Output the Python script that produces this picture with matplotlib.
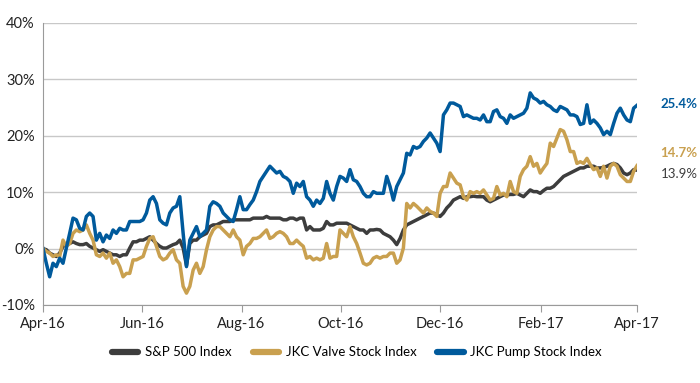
import pandas as pd
import matplotlib.pyplot as plt
from matplotlib.ticker import FuncFormatter

# cumulative return (%), evenly spaced Apr-2016 .. Apr-2017
sp500 = [0.0, -0.2, -0.8, -1.1, -1.4, -0.8, 0.4, 0.7, 0.9, 1.2, 0.9, 0.7, 0.7, 0.9, 0.4, 0.1,
         -0.2, -0.5, -0.2, -0.5, -0.8, -1.1, -1.1, -1.4, -1.1, -1.1, 0.1, 1.2, 1.2, 1.5, 1.5, 1.8,
         2.1, 1.5, 0.9, 0.4, 0.1, 0.1, 0.4, 0.7, 0.9, 1.5, 0.1, -3.0, 0.9, 1.5, 1.5, 2.1,
         2.4, 2.7, 3.9, 4.2, 4.2, 4.5, 4.8, 4.8, 4.8, 5.1, 5.1, 5.1, 5.1, 5.1, 5.1, 5.4,
         5.4, 5.4, 5.4, 5.7, 5.4, 5.4, 5.4, 5.4, 5.1, 5.1, 5.4, 5.4, 5.1, 5.4, 5.4, 3.3,
         3.9, 3.3, 3.3, 3.3, 3.6, 4.8, 4.2, 4.2, 4.5, 4.5, 4.5, 4.5, 4.2,
         3.9, 3.6, 3.3, 3.3, 2.7, 3.3, 3.3, 3.4, 3.3, 2.7, 2.4, 2.1, 1.5, 0.7, 1.8, 3.3,
         4.2, 4.5, 4.8, 5.1, 5.4, 5.7, 6.0, 6.3, 6.3, 6.0, 5.7, 6.3, 7.2, 7.8, 8.6, 8.9,
         9.2, 8.9, 9.2, 9.2, 9.3, 9.2, 9.2, 9.2, 8.6, 8.3, 8.6, 8.9, 9.2, 9.5, 9.5, 9.6,
         9.6, 9.8, 9.5, 9.2, 9.8, 10.4, 10.1, 10.1, 9.8, 10.3, 10.7, 10.7, 11.0, 11.6, 12.2, 12.8,
         13.1, 13.4, 13.7, 14.0, 14.3, 14.3, 14.6, 14.6, 14.6, 14.3, 14.3, 14.4, 14.6, 14.9, 15.1, 14.9,
         14.3, 13.4, 13.1, 13.4, 14.0, 13.9]

valve = [0.0, -0.5, -0.8, -1.4, -1.1, -1.4, 1.5, 0.4, 0.9, 2.7, 3.3, 3.0, 3.3, 4.2, 2.7, 1.5,
         -1.1, -1.4, -0.8, -1.7, -0.8, -2.6, -2.0, -3.2, -5.0, -4.4, -4.4, -2.0, -2.0, -1.7, -1.4, 0.4,
         1.8, 2.1, 0.4, -1.4, -2.0, -1.7, -0.8, -0.2, -2.0, -2.6, -6.7, -7.9, -6.7, -3.8, -2.6, -4.4,
         -3.2, -0.2, 2.1, 3.3, 3.9, 3.9, 3.3, 2.7, 2.1, 3.3, 2.1, 1.5, -1.1, 0.4, 0.9, 1.8,
         1.8, 2.1, 2.7, 3.3, 1.8, 2.1, 2.7, 3.0, 2.7, 2.1, 0.9, 0.9, 1.5, 0.9, 0.4, -1.7,
         -1.4, -2.0, -1.7, -2.0, -1.7, 0.9, -1.7, -1.4, -1.4, 3.3, 2.7, 2.1, 3.9,
         2.1, 0.9, -0.8, -2.6, -2.9, -2.6, -1.7, -1.4, -1.7, -1.4, -1.4, -0.8, -0.8, -2.6, -2.0, 0.1,
         8.0, 7.2, 8.0, 7.5, 6.9, 6.3, 7.2, 6.6, 6.3, 5.7, 9.8, 11.0, 11.0, 13.4, 12.5, 11.6,
         11.3, 9.2, 8.6, 10.1, 9.8, 10.1, 9.8, 10.4, 9.5, 8.6, 8.9, 11.0, 9.5, 9.8, 9.2, 11.9,
         10.1, 9.8, 12.8, 14.0, 14.6, 16.3, 14.6, 15.1, 13.4, 14.3, 15.1, 18.7, 18.1, 19.6, 21.1, 20.8,
         19.3, 17.2, 17.2, 15.1, 15.4, 15.1, 16.0, 14.9, 14.0, 14.3, 12.8, 14.6, 12.5, 14.6, 15.1, 14.6,
         13.1, 12.5, 11.9, 11.9, 13.7, 14.7]

pump = [0.0, -2.6, -5.0, -2.6, -3.2, -1.7, -2.6, 0.1, 2.7, 5.4, 5.1, 3.6, 3.3, 5.7, 6.3, 5.7,
        1.5, 2.7, 1.2, 2.4, 1.8, 3.3, 2.7, 3.6, 3.3, 3.3, 4.8, 4.8, 4.8, 4.8, 5.1, 6.3,
        8.6, 9.2, 8.0, 5.1, 4.5, 4.2, 6.3, 7.2, 7.5, 9.2, 2.7, -3.2, 1.5, 2.7, 3.9, 2.1,
        2.7, 3.3, 7.5, 8.3, 8.0, 7.5, 6.3, 5.7, 5.1, 4.8, 6.9, 9.2, 6.9, 6.9, 7.8, 8.6,
        10.1, 11.9, 12.8, 13.7, 14.6, 14.0, 13.4, 13.7, 12.8, 12.5, 11.9, 9.8, 11.6, 11.0, 11.9, 9.2,
        8.6, 7.5, 8.6, 8.0, 8.9, 11.9, 9.8, 8.6, 11.0, 12.8, 12.5, 11.9, 14.0,
        12.2, 11.9, 11.0, 9.8, 9.2, 9.2, 10.1, 9.8, 9.8, 9.8, 12.8, 11.0, 8.6, 11.0, 12.2, 13.4,
        16.9, 16.6, 18.1, 17.8, 18.1, 19.0, 19.6, 20.5, 19.6, 18.7, 17.2, 23.7, 24.6, 25.8, 25.8, 25.5,
        25.2, 23.4, 23.7, 23.4, 23.1, 23.1, 22.8, 23.7, 22.5, 22.5, 24.3, 24.6, 23.4, 23.1, 22.2, 23.7,
        23.1, 23.4, 23.7, 24.0, 24.9, 27.6, 26.7, 26.4, 25.8, 26.1, 25.5, 25.2, 24.6, 24.3, 25.2, 24.9,
        24.6, 23.7, 23.7, 23.4, 22.0, 22.2, 25.5, 22.2, 22.8, 22.2, 21.4, 20.2, 20.8, 20.2, 22.2, 24.0,
        24.9, 23.7, 22.8, 22.5, 24.9, 25.4]

series_names = ['S&P 500 Index', 'JKC Valve Stock Index', 'JKC Pump Stock Index']
series_colors = ['#3d3d3d', '#c9a04f', '#005a9c']
tick_dates = ['2016-04-01', '2016-06-01', '2016-08-01', '2016-10-01',
              '2016-12-01', '2017-02-01', '2017-04-01']
tick_labels = ['Apr-16', 'Jun-16', 'Aug-16', 'Oct-16', 'Dec-16', 'Feb-17', 'Apr-17']

dates = pd.date_range('2016-04-01', '2017-04-01', periods=len(sp500))

plt.rcParams['font.family'] = ['Lato', 'DejaVu Sans']
fig = plt.figure(figsize=(7, 3.83), dpi=100)
ax = fig.add_axes([0.0614, 0.2037, 0.8486, 0.7363])

for vals, name, col in zip([sp500, valve, pump], series_names, series_colors):
    ax.plot(dates, vals, color=col, linewidth=2.5, label=name, solid_joinstyle='round')

ax.set_ylim(-10, 40)
ax.set_yticks([-10, 0, 10, 20, 30, 40])
ax.yaxis.set_major_formatter(FuncFormatter(lambda v, p: f'{v:.0f}%'))
ax.set_xlim(pd.Timestamp(tick_dates[0]), pd.Timestamp(tick_dates[-1]))
ax.set_xticks(pd.to_datetime(tick_dates))
ax.set_xticklabels(tick_labels)

ax.grid(axis='y', color='#c8c8c8', linewidth=1)
ax.set_axisbelow(True)
for s in ['top', 'right']:
    ax.spines[s].set_visible(False)
for s in ['left', 'bottom']:
    ax.spines[s].set_color('#9a9a9a')
ax.tick_params(axis='y', length=0, labelsize=10.5, pad=6, colors='#222222')
ax.tick_params(axis='x', length=5, color='#9a9a9a', labelsize=10.5, pad=4, labelcolor='#222222')

# end-of-period labels
end_offsets = [(17, -3), (17, 9), (17, 1)]
weights = ['normal', 'bold', 'bold']
for vals, col, off, w in zip([sp500, valve, pump], series_colors, end_offsets, weights):
    ax.annotate(f'{vals[-1]:.1f}%', xy=(dates[-1], vals[-1]), xytext=off,
                textcoords='offset points', color=col, fontsize=9.5, fontweight=w,
                va='center', ha='left', annotation_clip=False)

leg = fig.legend(loc='center', bbox_to_anchor=(0.51, 0.08), ncol=3, frameon=False,
                 fontsize=9.5, handlelength=2.0, columnspacing=1.6, handletextpad=0.5)
for line in leg.get_lines():
    line.set_linewidth(4.5)
    line.set_solid_capstyle('round')

fig.savefig('out.png', dpi=100)
